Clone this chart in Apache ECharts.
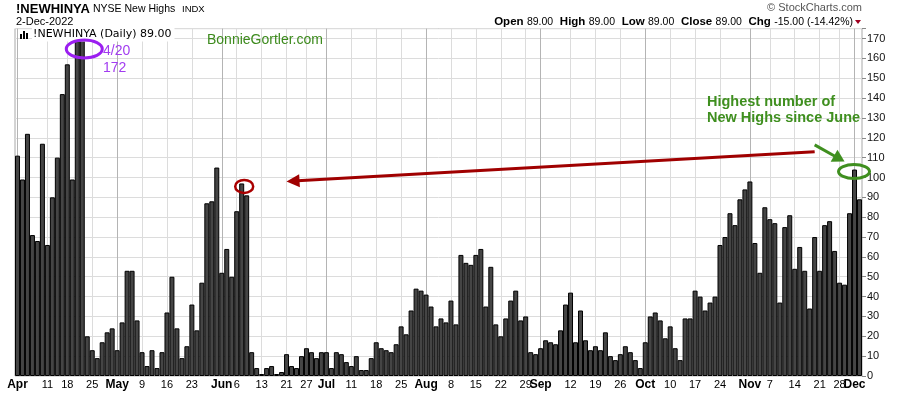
<!DOCTYPE html>
<html><head><meta charset="utf-8">
<script src="https://cdn.jsdelivr.net/npm/echarts@6/dist/echarts.min.js"></script>
<style>html,body{margin:0;padding:0;background:#fff}#c{width:900px;height:396px}</style>
</head><body><div id="c"></div><script>
const dates = [
'4/1','4/4','4/5','4/6','4/7','4/8','4/11','4/12','4/13','4/14','4/18','4/19','4/20','4/21','4/22','4/25','4/26','4/27','4/28','4/29',
'5/2','5/3','5/4','5/5','5/6','5/9','5/10','5/11','5/12','5/13','5/16','5/17','5/18','5/19','5/20','5/23','5/24','5/25','5/26','5/27','5/31',
'6/1','6/2','6/3','6/6','6/7','6/8','6/9','6/10','6/13','6/14','6/15','6/16','6/17','6/21','6/22','6/23','6/24','6/27','6/28','6/29','6/30',
'7/1','7/5','7/6','7/7','7/8','7/11','7/12','7/13','7/14','7/15','7/18','7/19','7/20','7/21','7/22','7/25','7/26','7/27','7/28','7/29',
'8/1','8/2','8/3','8/4','8/5','8/8','8/9','8/10','8/11','8/12','8/15','8/16','8/17','8/18','8/19','8/22','8/23','8/24','8/25','8/26','8/29','8/30','8/31',
'9/1','9/2','9/6','9/7','9/8','9/9','9/12','9/13','9/14','9/15','9/16','9/19','9/20','9/21','9/22','9/23','9/26','9/27','9/28','9/29','9/30',
'10/3','10/4','10/5','10/6','10/7','10/10','10/11','10/12','10/13','10/14','10/17','10/18','10/19','10/20','10/21','10/24','10/25','10/26','10/27','10/28','10/31',
'11/1','11/2','11/3','11/4','11/7','11/8','11/9','11/10','11/11','11/14','11/15','11/16','11/17','11/18','11/21','11/22','11/23','11/25','11/28','11/29','11/30',
'12/1','12/2'];
const newHighs = [
111,99,122,71,68,117,66,90,110,142,157,99,172,171,20,13,9,17,22,24,
13,27,53,53,28,12,5,13,4,12,32,50,24,9,15,36,23,47,87,88,105,
52,64,50,83,97,91,12,4,1,4,5,1,2,11,5,4,10,14,12,9,12,
12,4,12,11,7,5,10,3,3,9,17,14,13,12,16,25,21,33,44,43,
41,35,25,29,27,38,26,61,57,56,61,64,35,55,26,20,29,38,43,28,30,12,11,
14,18,17,16,23,36,42,17,33,18,13,15,13,22,10,8,11,15,12,8,4,
17,30,32,28,19,25,14,8,29,29,43,40,33,37,40,66,70,82,76,89,94,
98,67,52,85,79,77,37,75,81,54,65,53,34,70,53,76,78,63,47,46,82,
104,89];
const tickDates = ['4/1','4/11','4/18','4/25','5/2','5/9','5/16','5/23','6/1','6/6','6/13','6/21','6/27','7/1','7/11','7/18','7/25','8/1','8/8','8/15','8/22','8/29','9/1','9/12','9/19','9/26','10/3','10/10','10/17','10/24','11/1','11/7','11/14','11/21','11/28','12/1'];
const tickTexts = ['Apr','11','18','25','May','9','16','23','Jun','6','13','21','27','Jul','11','18','25','Aug','8','15','22','29','Sep','12','19','26','Oct','10','17','24','Nov','7','14','21','28','Dec'];

const F = '"Liberation Sans", Arial, sans-serif';
const tickMap = {}; tickDates.forEach((d, i) => { tickMap[d] = tickTexts[i]; });
const isMonth = t => /[A-Za-z]/.test(t);
const lastDate = dates[dates.length - 1];

const chart = echarts.init(document.getElementById('c'), null, {renderer: 'canvas'});
chart.setOption({
  animation: false,
  grid: {left: 15, right: 38, top: 28.6, bottom: 20, show: true, borderColor: '#a8a8a8', borderWidth: 1},
  xAxis: {
    type: 'category', data: dates, boundaryGap: true,
    axisLine: {show: false}, axisTick: {show: false}, splitLine: {show: false},
    axisLabel: {
      interval: (i, v) => (v in tickMap) || v === lastDate,
      hideOverlap: false,
      formatter: v => { const t = tickMap[v]; return t === undefined ? ' ' : (isMonth(t) ? '{m|' + t + '}' : '{d|' + t + '}'); },
      margin: 3,
      rich: {
        m: {fontWeight: 'bold', fontSize: 12, fontFamily: F, color: '#000'},
        d: {fontSize: 11, fontFamily: F, color: '#000'}
      }
    }
  },
  yAxis: {
    type: 'value', position: 'right', min: 0, max: 175, interval: 10,
    axisLine: {show: false},
    axisTick: {show: true, length: 4, lineStyle: {color: '#888'}},
    splitLine: {lineStyle: {color: '#dcdcdc'}},
    axisLabel: {margin: 5, fontSize: 11, fontFamily: F, color: '#111', formatter: v => (v % 10 === 0 ? String(v) : '')}
  },
  series: [{
    type: 'bar', data: newHighs, barCategoryGap: '0%', z: 2,
    itemStyle: {color: '#454545', borderColor: '#000', borderWidth: 1},
    markLine: {
      silent: true, symbol: ['none', 'none'], z: 1, animation: false,
      label: {show: false},
      data: tickDates.map((d, i) => ({xAxis: d, lineStyle: {color: isMonth(tickTexts[i]) ? '#b4b4b4' : '#dcdcdc', width: 1, type: 'solid'}}))
    }
  }]
});

const px = (i, v) => chart.convertToPixel({gridIndex: 0}, [i, v]);
function arrow(p0, p1, color, w, hl, hh) {
  const dx = p1[0] - p0[0], dy = p1[1] - p0[1];
  const L = Math.sqrt(dx * dx + dy * dy), ux = dx / L, uy = dy / L;
  const bx = p1[0] - ux * hl, by = p1[1] - uy * hl;
  return [
    {type: 'line', z: 100, shape: {x1: p0[0], y1: p0[1], x2: bx + ux * 2, y2: by + uy * 2}, style: {stroke: color, lineWidth: w}},
    {type: 'polygon', z: 100, shape: {points: [[p1[0], p1[1]], [bx - uy * hh, by + ux * hh], [bx + uy * hh, by - ux * hh]]}, style: {fill: color}}
  ];
}
const T = (text, x, y, font, fill, extra) => ({type: 'text', z: 100, style: Object.assign({text, x, y, font, fill, verticalAlign: 'middle', align: 'left'}, extra || {})});

const pPurple = px(13, 164.7);
const pRed = px(45, 95.5);
const pGreen = px(168, 103);
const redTail = px(160, 113), redTip = px(54, 98);
const grTail = px(160, 116.4), grTip = px(166, 108);

const els = [
  T('!NEWHINYA', 16, 9, 'bold 13px ' + F, '#000'),
  T('NYSE New Highs', 93, 9, '10.5px ' + F, '#000'),
  T('INDX', 182, 9.5, '9.5px ' + F, '#000'),
  T('2-Dec-2022', 16, 22, '11px ' + F, '#000'),
  T('© StockCharts.com', 862, 8, '11px ' + F, '#555', {align: 'right'}),
  {type: 'text', z: 100, style: {
    text: '{b|Open} {n|89.00}  {b|High} {n|89.00}  {b|Low} {n|89.00}  {b|Close} {n|89.00}  {b|Chg} {n|-15.00 (-14.42%)}',
    x: 853, y: 22, align: 'right', verticalAlign: 'middle',
    rich: {b: {font: 'bold 11.5px ' + F, fill: '#000'}, n: {font: '10.5px ' + F, fill: '#000'}}
  }},
  {type: 'polygon', z: 100, shape: {points: [[855, 20], [861, 20], [858, 24]]}, style: {fill: '#a00020'}},
  T('!NEWHINYA (Daily) 89.00', 32, 34.5, '11px "DejaVu Sans", Verdana, sans-serif', '#000', {backgroundColor: '#fff', padding: [2, 3, 1, 1]}),
  {type: 'rect', z: 100, shape: {x: 20, y: 34, width: 2, height: 5}, style: {fill: '#000'}},
  {type: 'rect', z: 100, shape: {x: 23, y: 31, width: 2, height: 8}, style: {fill: '#000'}},
  {type: 'rect', z: 100, shape: {x: 26, y: 33, width: 2, height: 6}, style: {fill: '#000'}},
  T('BonnieGortler.com', 207, 40, '14px ' + F, '#3c8a1c'),
  {type: 'ellipse', z: 101, shape: {cx: pPurple[0] + 2, cy: pPurple[1], rx: 18, ry: 9}, style: {fill: 'none', stroke: '#9b1ff0', lineWidth: 3}},
  T('4/20', 103, 51, '14px ' + F, '#a23cf0'),
  T('172', 103, 68, '14px ' + F, '#a23cf0'),
  {type: 'ellipse', z: 101, shape: {cx: pRed[0] + 2.5, cy: pRed[1], rx: 9, ry: 6.5}, style: {fill: 'none', stroke: '#aa0000', lineWidth: 2.5}},
  ...arrow(redTail, redTip, '#a00000', 3, 13, 6.5),
  ...arrow(grTail, grTip, '#3f8f1f', 3, 12, 7),
  {type: 'ellipse', z: 101, shape: {cx: pGreen[0] - 0.5, cy: pGreen[1], rx: 15.5, ry: 7}, style: {fill: 'none', stroke: '#3f8f1f', lineWidth: 3}},
  T('Highest number of', 707, 102, 'bold 14.5px ' + F, '#3f8f1f'),
  T('New Highs since June', 707, 118, 'bold 14.5px ' + F, '#3f8f1f')
];
chart.setOption({graphic: {elements: els}});
</script></body></html>
